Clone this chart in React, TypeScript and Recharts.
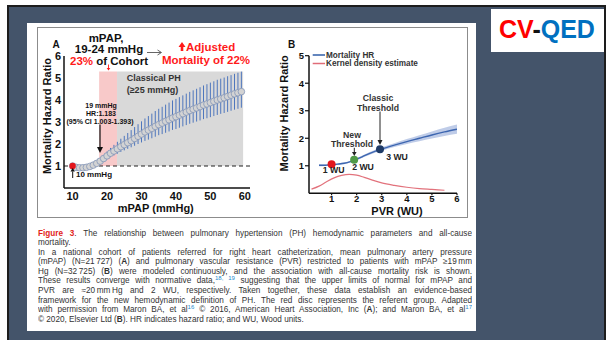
import React from 'react';
import {
  ComposedChart, Scatter, ErrorBar, XAxis, YAxis, ReferenceArea, ReferenceLine, Line, Area,
} from 'recharts';

const FONT = '"Liberation Sans", Arial, Helvetica, sans-serif';

// ---------- Panel A: mPAP vs mortality HR ----------
const mpapA = [10, 11, 12, 13, 14, 15, 16, 17, 18, 19, 20, 21, 22, 23, 24, 25, 26, 27, 28, 29,
  30, 31, 32, 33, 34, 35, 36, 37, 38, 39, 40, 41, 42, 43, 44, 45, 46, 47, 48, 49,
  50, 51, 52, 53, 54, 55, 56, 57, 58, 59];
const hrA = [1.00, 0.94, 0.92, 0.92, 0.94, 0.98, 1.04, 1.12, 1.22, 1.34, 1.46, 1.58, 1.68, 1.78, 1.88, 1.97, 2.06, 2.15, 2.25, 2.35,
  2.45, 2.55, 2.63, 2.71, 2.80, 2.88, 2.95, 3.03, 3.10, 3.18, 3.24, 3.31, 3.38, 3.45, 3.52, 3.58, 3.64, 3.70, 3.77, 3.82,
  3.88, 3.94, 4.00, 4.05, 4.10, 4.16, 4.22, 4.28, 4.33, 4.38];
const ciHighA = [1.03, 0.97, 0.96, 0.97, 0.99, 1.04, 1.12, 1.22, 1.35, 1.50, 1.66, 1.82, 1.96, 2.10, 2.24, 2.37, 2.50, 2.63, 2.77, 2.90,
  3.03, 3.16, 3.27, 3.38, 3.50, 3.60, 3.69, 3.79, 3.88, 3.98, 4.05, 4.13, 4.21, 4.29, 4.37, 4.44, 4.51, 4.58, 4.66, 4.72,
  4.79, 4.85, 4.92, 4.97, 5.02, 5.08, 5.13, 5.19, 5.24, 5.29];
const ciLowA = [0.97, 0.91, 0.89, 0.88, 0.90, 0.93, 0.98, 1.04, 1.12, 1.21, 1.31, 1.40, 1.48, 1.56, 1.64, 1.71, 1.78, 1.85, 1.92, 2.00,
  2.07, 2.14, 2.20, 2.26, 2.33, 2.40, 2.45, 2.51, 2.57, 2.64, 2.68, 2.74, 2.80, 2.86, 2.92, 2.97, 3.02, 3.07, 3.13, 3.17,
  3.22, 3.27, 3.32, 3.37, 3.41, 3.46, 3.51, 3.56, 3.60, 3.65];
const xTicksA = [10, 20, 30, 40, 50, 60];
const yTicksA = [1, 2, 3, 4, 5, 6];
const referentA = [{ x: 10, y: 1.0 }];
const pinkZoneA = [17.7, 22.9];
const grayZoneA = [22.9, 59.5];
const zoneBottomA = 1;
const zoneTopA = 5.3;

// ---------- Panel B: PVR vs mortality HR ----------
const pvrB = [0.5, 0.75, 1.0, 1.25, 1.5, 1.75, 2.0, 2.25, 2.5, 2.75, 3.0, 3.5, 4.0, 4.5, 5.0, 5.5, 6.0];
const hrB = [1.02, 1.02, 1.04, 1.06, 1.09, 1.15, 1.24, 1.34, 1.44, 1.53, 1.61, 1.75, 1.88, 2.00, 2.12, 2.23, 2.33];
const bandLowB = [0.98, 0.99, 1.01, 1.03, 1.06, 1.12, 1.20, 1.30, 1.39, 1.48, 1.55, 1.68, 1.79, 1.89, 1.99, 2.08, 2.16];
const bandHighB = [1.06, 1.05, 1.07, 1.09, 1.12, 1.18, 1.28, 1.38, 1.49, 1.58, 1.67, 1.82, 1.97, 2.11, 2.25, 2.38, 2.50];
const kdeX = [0.2, 0.5, 0.8, 1.1, 1.4, 1.7, 2.0, 2.3, 2.6, 3.0, 3.5, 4.0, 4.5, 5.0, 5.5];
const kdeY = [0.15, 0.26, 0.42, 0.56, 0.65, 0.69, 0.66, 0.58, 0.49, 0.38, 0.29, 0.22, 0.17, 0.14, 0.11];
const markerPvrB = [1.0, 1.9, 2.93];
const markerHrB = [1.06, 1.22, 1.6];
const markerColorB = ['#e3161d', '#4f9a47', '#1e3a66'];
const xTicksB = [1, 2, 3, 4, 5, 6];
const yTicksB = [1, 2, 3, 4, 5];

const dataA = mpapA.map((m, i) => ({
  x: m,
  y: hrA[i],
  err: [Math.max(0, hrA[i] - ciLowA[i]), Math.max(0, ciHighA[i] - hrA[i])],
}));
const hrDataB = pvrB.map((p, i) => ({ x: p, y: hrB[i], band: [bandLowB[i], bandHighB[i]] }));
const kdeDataB = kdeX.map((p, i) => ({ x: p, y: kdeY[i] }));

const tickStyleA = { fontSize: 11, fontWeight: 700, fill: '#111', fontFamily: FONT };
const tickStyleB = { fontSize: 9.5, fontWeight: 700, fill: '#111', fontFamily: FONT };
const axisLineStyle = { stroke: '#111', strokeWidth: 1.5 };

const circleShape = (p: any) => (
  <circle cx={p.cx} cy={p.cy} r={3.3} fill="#d3d3d3" stroke="#8496b8" strokeWidth={0.8} />
);
const redDot = (p: any) => <circle cx={p.cx} cy={p.cy} r={3.2} fill="#e3161d" />;
const makeDot = (color: string) => (p: any) => <circle cx={p.cx} cy={p.cy} r={4} fill={color} />;

function ChartA() {
  return (
    <div style={{ position: 'absolute', left: 0, top: 0, width: 280, height: 230 }}>
      <ComposedChart width={280} height={230} margin={{ top: 56, right: 30, bottom: 12, left: 34 }}>
        <XAxis type="number" dataKey="x" domain={[7.5, 61.5]} ticks={xTicksA} allowDataOverflow height={30}
          tickSize={0} tickMargin={4} axisLine={axisLineStyle} tickLine={false} tick={tickStyleA} interval={0} />
        <YAxis type="number" dataKey="y" domain={[0, 6]} ticks={yTicksA} allowDataOverflow width={30}
          tickSize={0} tickMargin={3} axisLine={axisLineStyle} tickLine={false} tick={tickStyleA} interval={0} />
        <ReferenceArea x1={pinkZoneA[0]} x2={pinkZoneA[1]} y1={zoneBottomA} y2={zoneTopA} fill="#f8c9c9" fillOpacity={1} stroke="none" />
        <ReferenceArea x1={grayZoneA[0]} x2={grayZoneA[1]} y1={zoneBottomA} y2={zoneTopA} fill="#d9d9d9" fillOpacity={1} stroke="none" />
        <ReferenceLine y={1} stroke="#222" strokeDasharray="4 3" strokeWidth={1.2} />
        <Scatter data={dataA} dataKey="y" shape={circleShape} isAnimationActive={false}>
          <ErrorBar dataKey="err" direction="y" width={0} stroke="#4f77bd" strokeWidth={1} isAnimationActive={false} />
        </Scatter>
        <Scatter data={referentA} dataKey="y" shape={redDot} isAnimationActive={false} />
      </ComposedChart>
    </div>
  );
}

function ChartB() {
  return (
    <div style={{ position: 'absolute', left: 270, top: 0, width: 200, height: 230 }}>
      <ComposedChart width={200} height={230} margin={{ top: 55.7, right: 13, bottom: 11.7, left: 14 }}>
        <XAxis type="number" dataKey="x" domain={[0.1, 6]} ticks={xTicksB} allowDataOverflow height={25}
          tickSize={2} tickMargin={0} axisLine={axisLineStyle} tickLine={{ stroke: '#111', strokeWidth: 1.2 }} tick={tickStyleB} interval={0} />
        <YAxis type="number" dataKey="y" domain={[0, 5]} ticks={yTicksB} allowDataOverflow width={25}
          tickSize={4} tickMargin={1} axisLine={axisLineStyle} tickLine={{ stroke: '#111', strokeWidth: 1.2 }} tick={tickStyleB} interval={0} />
        <Area data={hrDataB} dataKey="band" type="monotone" stroke="none" fill="#a9bbe0" fillOpacity={0.75} isAnimationActive={false} />
        <Line data={hrDataB} dataKey="y" type="monotone" stroke="#3d66b0" strokeWidth={1.4} dot={false} isAnimationActive={false} />
        <Line data={kdeDataB} dataKey="y" type="monotone" stroke="#e2727c" strokeWidth={1.2} dot={false} isAnimationActive={false} />
        {markerPvrB.map((p, i) => (
          <Scatter key={i} data={[{ x: p, y: markerHrB[i] }]} dataKey="y" shape={makeDot(markerColorB[i])} isAnimationActive={false} />
        ))}
      </ComposedChart>
    </div>
  );
}

function ArrowV({ x, y1, y2, color = '#111', w = 1.2, head = 3.5, headLen = 5 }: any) {
  const dir = y2 > y1 ? 1 : -1;
  const base = y2 - dir * headLen;
  return (
    <g>
      <line x1={x} y1={y1} x2={x} y2={base} stroke={color} strokeWidth={w} />
      <polygon points={`${x - head},${base} ${x + head},${base} ${x},${y2}`} fill={color} />
    </g>
  );
}

function Overlay() {
  const t = { fontFamily: FONT, fontWeight: 700 } as any;
  return (
    <svg width={608} height={340} style={{ position: 'absolute', left: 0, top: 0, pointerEvents: 'none' }}>
      {/* Logo */}
      <text x={547} y={37.5} textAnchor="middle" style={{ ...t, fontSize: 25 }}>
        <tspan fill="#ff0000">CV</tspan><tspan fill="#111">-</tspan><tspan fill="#0070c0">QED</tspan>
      </text>

      {/* Panel A annotations */}
      <text x={56} y={44} textAnchor="middle" dominantBaseline="central" style={{ ...t, fontSize: 10 }} fill="#111">A</text>
      <text x={106} y={37.5} textAnchor="middle" dominantBaseline="central" style={{ ...t, fontSize: 11.5 }} fill="#111">mPAP,</text>
      <text x={109} y={49} textAnchor="middle" dominantBaseline="central" style={{ ...t, fontSize: 11.5 }} fill="#111">19-24 mmHg</text>
      <text x={109} y={60.5} textAnchor="middle" dominantBaseline="central" style={{ ...t, fontSize: 11.5 }} fill="#111">
        <tspan fill="#ff1a1a">23%</tspan> of Cohort
      </text>
      <line x1={147} y1={52.5} x2={161} y2={52.5} stroke="#555" strokeWidth={0.9} />
      <polyline points="157.5,50 161.5,52.5 157.5,55" fill="none" stroke="#555" strokeWidth={0.9} />
      <ArrowV x={108.5} y1={64.5} y2={70.5} color="#ff1a1a" w={0.9} head={1.8} headLen={2.5} />
      <polygon points="178.5,47 182,42 185.5,47 183.3,47 183.3,51 180.7,51 180.7,47" fill="#ff1a1a" />
      <text x={186} y={46.7} dominantBaseline="central" style={{ ...t, fontSize: 11.5 }} fill="#ff1a1a">Adjusted</text>
      <text x={206} y={59.5} textAnchor="middle" dominantBaseline="central" style={{ ...t, fontSize: 11.5 }} fill="#ff1a1a">Mortality of 22%</text>

      <text x={126.7} y={78.3} dominantBaseline="central" style={{ ...t, fontSize: 9 }} fill="#333">Classical PH</text>
      <text x={126.7} y={89.5} dominantBaseline="central" style={{ ...t, fontSize: 9 }} fill="#333">(≥25 mmHg)</text>

      <text x={101} y={105} textAnchor="middle" dominantBaseline="central" style={{ ...t, fontSize: 7 }} fill="#111">19 mmHg</text>
      <text x={101} y={113} textAnchor="middle" dominantBaseline="central" style={{ ...t, fontSize: 7 }} fill="#111">HR:1.183</text>
      <text x={100} y={121} textAnchor="middle" dominantBaseline="central" style={{ ...t, fontSize: 7 }} fill="#111">(95% CI 1.003-1.393)</text>
      <ArrowV x={100} y1={124.5} y2={153} color="#111" w={1.2} head={3} headLen={6} />

      <ArrowV x={72.7} y1={178} y2={168} color="#111" w={1} head={2.2} headLen={3.5} />
      <text x={76} y={174.5} dominantBaseline="central" style={{ ...t, fontSize: 8 }} fill="#111">10 mmHg</text>

      {/* Axis titles A */}
      <text x={155.8} y={207.5} textAnchor="middle" dominantBaseline="central" style={{ ...t, fontSize: 11 }} fill="#111">mPAP (mmHg)</text>
      <text x={47} y={116} textAnchor="middle" dominantBaseline="central" transform="rotate(-90 47 116)" style={{ ...t, fontSize: 11 }} fill="#111">Mortality Hazard Ratio</text>

      {/* Panel B annotations */}
      <text x={291.7} y={44} textAnchor="middle" dominantBaseline="central" style={{ ...t, fontSize: 10 }} fill="#111">B</text>
      <line x1={312.7} y1={55} x2={325} y2={55} stroke="#2f5ea8" strokeWidth={1.5} />
      <text x={326} y={55} dominantBaseline="central" style={{ ...t, fontSize: 8.2 }} fill="#333">Mortality HR</text>
      <line x1={312.7} y1={63.5} x2={325} y2={63.5} stroke="#e06c78" strokeWidth={1.5} />
      <text x={326} y={63.5} dominantBaseline="central" style={{ ...t, fontSize: 8.2 }} fill="#333">Kernel density estimate</text>

      <text x={378} y={98.3} textAnchor="middle" dominantBaseline="central" style={{ ...t, fontSize: 8.7 }} fill="#333">Classic</text>
      <text x={378} y={107.7} textAnchor="middle" dominantBaseline="central" style={{ ...t, fontSize: 8.7 }} fill="#333">Threshold</text>
      <ArrowV x={380} y1={111.5} y2={145} color="#222" w={1} head={2.5} headLen={5} />

      <text x={352} y={135} textAnchor="middle" dominantBaseline="central" style={{ ...t, fontSize: 8.7 }} fill="#333">New</text>
      <text x={352} y={144.3} textAnchor="middle" dominantBaseline="central" style={{ ...t, fontSize: 8.7 }} fill="#333">Threshold</text>
      <ArrowV x={354.3} y1={147.8} y2={156} color="#222" w={1} head={2.3} headLen={4} />

      <text x={333.7} y={170} textAnchor="middle" dominantBaseline="central" style={{ ...t, fontSize: 8.7 }} fill="#222">1 WU</text>
      <text x={363} y={166.7} textAnchor="middle" dominantBaseline="central" style={{ ...t, fontSize: 8.7 }} fill="#222">2 WU</text>
      <text x={397} y={157.3} textAnchor="middle" dominantBaseline="central" style={{ ...t, fontSize: 8.7 }} fill="#222">3 WU</text>

      <text x={397} y={211} textAnchor="middle" dominantBaseline="central" style={{ ...t, fontSize: 11 }} fill="#111">PVR (WU)</text>
      <text x={284} y={113.3} textAnchor="middle" dominantBaseline="central" transform="rotate(-90 284 113.3)" style={{ ...t, fontSize: 11 }} fill="#111">Mortality Hazard Ratio</text>
    </svg>
  );
}

const sup = (s: string) => (
  <span style={{ color: '#1b8ad0', fontSize: 6, position: 'relative', top: -3, lineHeight: 0 }}>{s}</span>
);

const captionLines: Array<{ j: boolean; c: React.ReactNode }> = [
  { j: true, c: <><span style={{ color: '#e2231a', fontWeight: 700 }}>Figure 3</span>. The relationship between pulmonary hypertension (PH) hemodynamic parameters and all-cause</> },
  { j: false, c: <>mortality.</> },
  { j: true, c: <>In a national cohort of patients referred for right heart catheterization, mean pulmonary artery pressure</> },
  { j: true, c: <>(mPAP) (N=21{'\u2009'}727) (<b>A</b>) and pulmonary vascular resistance (PVR) restricted to patients with mPAP ≥19{'\u2009'}mm</> },
  { j: true, c: <>Hg (N=32{'\u2009'}725) (<b>B</b>) were modeled continuously, and the association with all-cause mortality risk is shown.</> },
  { j: true, c: <>These results converge with normative data,{sup('18, 19')} suggesting that the upper limits of normal for mPAP and</> },
  { j: true, c: <>PVR are ≈20{'\u2009'}mm{'\u2009'}Hg and 2 WU, respectively. Taken together, these data establish an evidence-based</> },
  { j: true, c: <>framework for the new hemodynamic definition of PH. The red disc represents the referent group. Adapted</> },
  { j: true, c: <>with permission from Maron BA, et al{sup('16')} © 2016, American Heart Association, Inc (<b>A</b>); and Maron BA, et al{sup('17')}</> },
  { j: false, c: <>© 2020, Elsevier Ltd (<b>B</b>). HR indicates hazard ratio; and WU, Wood units.</> },
];

function Caption() {
  return (
    <div style={{ position: 'absolute', left: 38, top: 228.5, width: 434, fontFamily: FONT, fontSize: 8.2, color: '#333' }}>
      {captionLines.map((l, i) => (
        <div key={i} style={{
          height: 9.6, lineHeight: '9.6px', whiteSpace: l.j ? 'normal' : 'nowrap', overflow: 'hidden',
          textAlign: l.j ? 'justify' : 'left', textAlignLast: l.j ? 'justify' : 'left',
        } as any}>{l.c}</div>
      ))}
    </div>
  );
}

export default function App() {
  return (
    <div style={{ position: 'absolute', left: 0, top: 0, width: 608, height: 340, background: '#fff', overflow: 'hidden' }}>
      <div style={{ position: 'absolute', left: 7, top: 5, width: 599, height: 340, background: '#44546a', borderLeft: '2px solid #1d1d1d', borderTop: '2px solid #1d1d1d', borderRight: '2px solid #1d1d1d', boxSizing: 'border-box' }} />
      <div style={{ position: 'absolute', left: 491, top: 9, width: 113, height: 43, background: '#fff' }} />
      <div style={{ position: 'absolute', left: 27, top: 23, width: 449, height: 308, background: '#fff' }} />
      <div style={{ position: 'absolute', left: 37, top: 27, width: 431, height: 191, border: '1px solid #8c8c8c', boxSizing: 'border-box' }} />
      <ChartA />
      <ChartB />
      <Overlay />
      <Caption />
    </div>
  );
}
